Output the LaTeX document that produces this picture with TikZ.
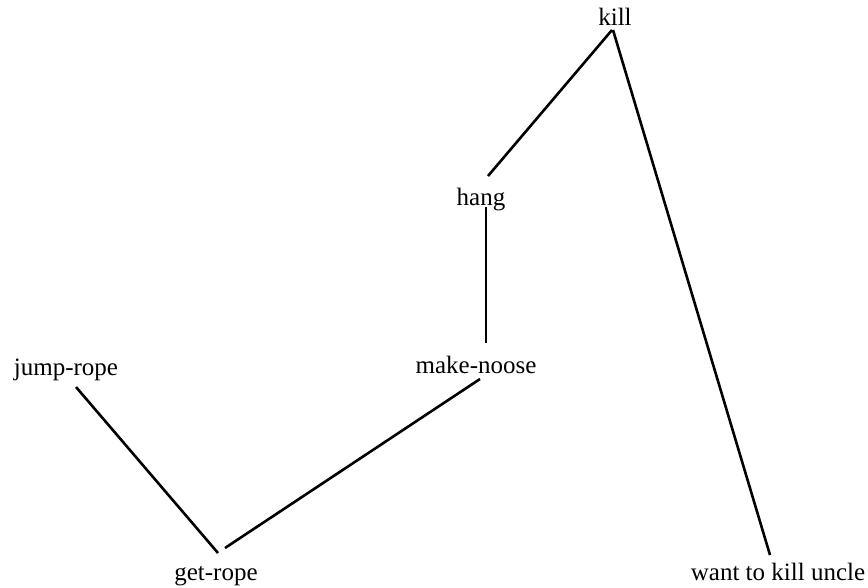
\documentclass[tikz,border=0pt]{standalone}
\usepackage{fontspec}
\setmainfont{Liberation Serif}
\usetikzlibrary{calc}
\begin{document}
\begin{tikzpicture}[x=1pt,y=-1pt,
  lbl/.style={anchor=base,inner sep=0pt,font=\fontsize{25}{30}\selectfont},
  edge/.style={line width=2.6pt,line cap=butt}]
\useasboundingbox (0,0) rectangle (868,587);
\node[lbl] (kill) at (615,25) {kill};
\node[lbl] (hang) at (481,205) {hang};
\node[lbl] (noose) at (476,373) {make-noose};
\node[lbl] (jump) at (66,375) {jump-rope};
\node[lbl] (get) at (216,580) {get-rope};
\node[lbl] (want) at (778,580) {want to kill uncle};
\draw[edge] ($(kill.base)+(-3,5)$) -- ($(hang.base)+(7,-29)$);
\draw[edge] ($(kill.base)+(-2,5)$) -- ($(want.base)+(-8,-25)$);
\draw[edge,line width=2pt] ($(hang.base)+(5,2)$) -- ($(noose.base)+(10,-30)$);
\draw[edge] ($(noose.base)+(4,6)$) -- ($(get.base)+(9,-32)$);
\draw[edge] ($(jump.base)+(10,12)$) -- ($(get.base)+(2,-27)$);
\end{tikzpicture}
\end{document}
